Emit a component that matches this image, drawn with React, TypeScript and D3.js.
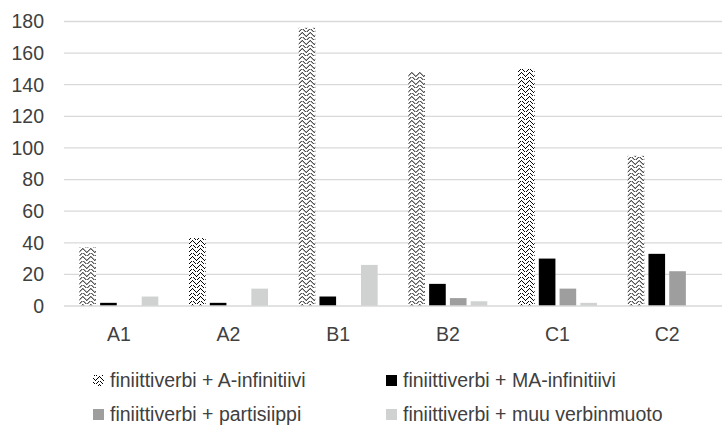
import React, { useEffect, useRef } from 'react';
import * as d3 from 'd3';

const categories = ['A1', 'A2', 'B1', 'B2', 'C1', 'C2'];
const seriesNames = [
  'finiittiverbi + A-infinitiivi',
  'finiittiverbi + MA-infinitiivi',
  'finiittiverbi + partisiippi',
  'finiittiverbi + muu verbinmuoto',
];
const aInfinitiivi = [37, 43, 176, 148, 150, 95];
const maInfinitiivi = [2, 2, 6, 14, 30, 33];
const partisiippi = [0, 0, 0, 5, 11, 22];
const muuVerbinmuoto = [6, 11, 26, 3, 2, 0];
const yTicks = [0, 20, 40, 60, 80, 100, 120, 140, 160, 180];

const seriesValues = [aInfinitiivi, maInfinitiivi, partisiippi, muuVerbinmuoto];
const fills = ['url(#zigzag)', '#000000', '#9e9e9e', '#d0d2d2'];

const App = () => {
  const ref = useRef<SVGSVGElement>(null);

  useEffect(() => {
    const width = 725;
    const height = 428;
    const left = 64;
    const right = 722;
    const top = 21.5;
    const bottom = 306;
    const font = '"Liberation Sans", Arial, sans-serif';
    const fontSize = 19.5;

    const svg = d3.select(ref.current);
    svg.selectAll('*').remove();
    svg.attr('width', width).attr('height', height);

    // chevron hatch, roughly like the excel pattern
    const pat = svg.append('defs').append('pattern')
      .attr('id', 'zigzag')
      .attr('patternUnits', 'userSpaceOnUse')
      .attr('width', 8)
      .attr('height', 8);
    pat.append('rect').attr('width', 8).attr('height', 8).attr('fill', '#fff');
    const pix = [
      [0, 3], [1, 2], [2, 1], [3, 0], [4, 1], [5, 2], [6, 3],
      [0, 7], [1, 6], [2, 5], [4, 5], [5, 6], [6, 7], [7, 4],
    ];
    pat.selectAll('rect.px').data(pix).enter().append('rect')
      .attr('class', 'px')
      .attr('x', d => d[0]).attr('y', d => d[1])
      .attr('width', 1).attr('height', 1)
      .attr('fill', '#000');

    const x0 = d3.scaleBand<string>()
      .domain(categories)
      .range([left, right])
      .paddingInner(0.28)
      .paddingOuter(0.14);

    const x1 = d3.scaleBand<number>()
      .domain(d3.range(seriesNames.length))
      .range([0, x0.bandwidth()])
      .paddingInner(0.2);

    const y = d3.scaleLinear().domain([0, 180]).range([bottom, top]);

    // gridlines
    svg.append('g')
      .selectAll('line')
      .data(yTicks.filter(t => t > 0))
      .enter().append('line')
      .attr('x1', left).attr('x2', right)
      .attr('y1', d => y(d)).attr('y2', d => y(d))
      .attr('stroke', '#d9d9d9')
      .attr('stroke-width', 1.3);

    svg.append('g')
      .selectAll('text')
      .data(yTicks)
      .enter().append('text')
      .attr('x', 44)
      .attr('y', d => y(d))
      .attr('dy', '0.35em')
      .attr('text-anchor', 'end')
      .attr('font-family', font)
      .attr('font-size', fontSize)
      .attr('fill', '#404040')
      .text(d => d);

    // bars
    categories.forEach((cat, ci) => {
      const g = svg.append('g').attr('transform', `translate(${x0(cat)},0)`);
      seriesValues.forEach((vals, si) => {
        if (vals[ci] <= 0) return;
        g.append('rect')
          .attr('x', x1(si)!)
          .attr('y', y(vals[ci]))
          .attr('width', x1.bandwidth())
          .attr('height', y(0) - y(vals[ci]))
          .attr('fill', fills[si]);
      });
    });

    svg.append('line')
      .attr('x1', left).attr('x2', right)
      .attr('y1', y(0)).attr('y2', y(0))
      .attr('stroke', '#d9d9d9')
      .attr('stroke-width', 1.3);

    svg.append('g')
      .selectAll('text')
      .data(categories)
      .enter().append('text')
      .attr('x', d => x0(d)! + x0.bandwidth() / 2)
      .attr('y', 334)
      .attr('dy', '0.35em')
      .attr('text-anchor', 'middle')
      .attr('font-family', font)
      .attr('font-size', fontSize)
      .attr('fill', '#404040')
      .text(d => d);

    // legend
    const legendPos = [[93, 380], [386, 380], [93, 414], [386, 414]];
    seriesNames.forEach((name, i) => {
      const [lx, ly] = legendPos[i];
      svg.append('rect')
        .attr('x', lx).attr('y', ly - 5)
        .attr('width', 11).attr('height', 11)
        .attr('fill', fills[i]);
      svg.append('text')
        .attr('x', lx + 17)
        .attr('y', ly)
        .attr('dy', '0.35em')
        .attr('font-family', font)
        .attr('font-size', fontSize)
        .attr('fill', '#404040')
        .text(name);
    });
  }, []);

  return <svg ref={ref} style={{ display: 'block', position: 'absolute', left: 0, top: 0 }}></svg>;
};

export default App;
